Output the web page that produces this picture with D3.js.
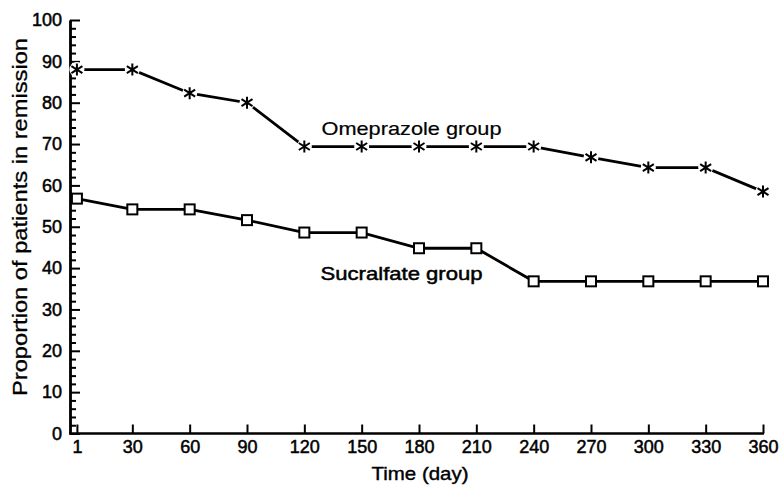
<!DOCTYPE html>
<html>
<head>
<meta charset="utf-8">
<script src="https://cdn.jsdelivr.net/npm/d3@7"></script>
<style>
  body { margin: 0; background: #fff; }
  text { font-family: "Liberation Sans", Arial, sans-serif; fill: #000; }
</style>
</head>
<body>
<div id="viz"></div>
<script>
// data
let days = [1, 30, 60, 90, 120, 150, 180, 210, 240, 270, 300, 330, 360]
let omeprazole = [88, 88, 82.3, 80, 69.4, 69.4, 69.4, 69.4, 69.4, 66.8, 64.3, 64.3, 58.5]
let sucralfate = [56.8, 54.2, 54.2, 51.6, 48.6, 48.6, 44.8, 44.8, 36.8, 36.8, 36.8, 36.8, 36.8]
let xTicks = [1, 30, 60, 90, 120, 150, 180, 210, 240, 270, 300, 330, 360]
let yTicks = [0, 10, 20, 30, 40, 50, 60, 70, 80, 90, 100]

let W = 781, H = 485

let svg = d3.select("#viz")
  .append("svg")
    .attr("width", W)
    .attr("height", H)

// scales
let xScale = d3.scaleLinear()
    .domain([0, 360])
    .range([75, 763])

let yScale = d3.scaleLinear()
    .domain([0, 100])
    .range([433.5, 20])

let axisLeftX = 70

// y axis: major ticks with labels, minor ticks every 2
let yAxis = d3.axisLeft(yScale)
    .tickValues(yTicks)
    .tickSizeInner(-10)
    .tickSizeOuter(0)
    .tickPadding(8)

let yMinor = d3.axisLeft(yScale)
    .tickValues(d3.range(0, 101, 2).filter(v => v % 10 != 0))
    .tickSizeInner(-6)
    .tickSizeOuter(0)
    .tickFormat("")

svg.append("g")
    .attr("id", "y-minor")
    .attr("transform", `translate(${axisLeftX},0)`)
    .call(yMinor)

svg.append("g")
    .attr("id", "y-axis")
    .attr("transform", `translate(${axisLeftX},0)`)
    .call(yAxis)

// x axis, ticks pointing up
let xAxis = d3.axisBottom(xScale)
    .tickValues(xTicks)
    .tickSizeInner(-9)
    .tickSizeOuter(0)
    .tickPadding(7)

svg.append("g")
    .attr("id", "x-axis")
    .attr("transform", `translate(0,${yScale(0)})`)
    .call(xAxis)

svg.select("#x-axis .domain").remove()
svg.append("line")
    .attr("x1", axisLeftX - 1)
    .attr("x2", xScale(360) + 1)
    .attr("y1", yScale(0))
    .attr("y2", yScale(0))
    .attr("stroke", "#000")
    .attr("stroke-width", 2.4)

svg.selectAll("#x-axis .tick line, #y-axis .tick line, #y-minor .tick line")
    .attr("stroke", "#000")
    .attr("stroke-width", 2)
svg.selectAll("#y-axis .domain, #y-minor .domain")
    .attr("stroke", "#000")
    .attr("stroke-width", 2.4)

svg.selectAll("#x-axis .tick text, #y-axis .tick text")
    .attr("font-size", 18)
    .attr("font-family", "Liberation Sans, Arial, sans-serif")
    .attr("fill", "#000")
    .attr("stroke", "#000")
    .attr("stroke-width", 0.5)

// lines
let line = d3.line()
    .x(d => xScale(d[0]))
    .y(d => yScale(d[1]))

let omeData = days.map((d, i) => [d, omeprazole[i]])
let sucData = days.map((d, i) => [d, sucralfate[i]])

svg.append("path")
    .datum(omeData)
    .attr("d", line)
    .attr("fill", "none")
    .attr("stroke", "#000")
    .attr("stroke-width", 2.8)

svg.append("path")
    .datum(sucData)
    .attr("d", line)
    .attr("fill", "none")
    .attr("stroke", "#000")
    .attr("stroke-width", 2.8)

// star markers, white gap behind
let stars = svg.selectAll(".star")
    .data(omeData)
    .join("g")
      .attr("class", "star")
      .attr("transform", d => `translate(${xScale(d[0])},${yScale(d[1])})`)

stars.append("circle")
    .attr("r", 7.5)
    .attr("fill", "#fff")

stars.append("path")
    .attr("d", "M0,-6V6M-5.5,-3.5L5.5,3.5M-5.5,3.5L5.5,-3.5")
    .attr("stroke", "#000")
    .attr("stroke-width", 2)
    .attr("fill", "none")

// square markers
svg.selectAll(".sq")
    .data(sucData)
    .join("rect")
      .attr("class", "sq")
      .attr("x", d => xScale(d[0]) - 5)
      .attr("y", d => yScale(d[1]) - 5)
      .attr("width", 10)
      .attr("height", 10)
      .attr("fill", "#fff")
      .attr("stroke", "#000")
      .attr("stroke-width", 2)

// group labels
svg.append("text")
    .attr("x", xScale(129))
    .attr("y", yScale(72.2))
    .attr("font-size", 19)
    .attr("stroke", "#000")
    .attr("stroke-width", 0.2)
    .attr("textLength", 180)
    .attr("lengthAdjust", "spacingAndGlyphs")
    .text("Omeprazole group")

svg.append("text")
    .attr("x", xScale(128.5))
    .attr("y", yScale(37.1))
    .attr("font-size", 19)
    .attr("stroke", "#000")
    .attr("stroke-width", 0.5)
    .attr("textLength", 162)
    .attr("lengthAdjust", "spacingAndGlyphs")
    .text("Sucralfate group")

// axis titles
svg.append("text")
    .attr("x", 420)
    .attr("y", 480)
    .attr("text-anchor", "middle")
    .attr("font-size", 19)
    .attr("stroke", "#000")
    .attr("stroke-width", 0.4)
    .attr("textLength", 97)
    .attr("lengthAdjust", "spacingAndGlyphs")
    .text("Time (day)")

svg.append("text")
    .attr("transform", "translate(27,217) rotate(-90)")
    .attr("text-anchor", "middle")
    .attr("font-size", 20)
    .attr("stroke", "#000")
    .attr("stroke-width", 0.3)
    .attr("textLength", 358)
    .attr("lengthAdjust", "spacingAndGlyphs")
    .text("Proportion of patients in remission")
</script>
</body>
</html>
